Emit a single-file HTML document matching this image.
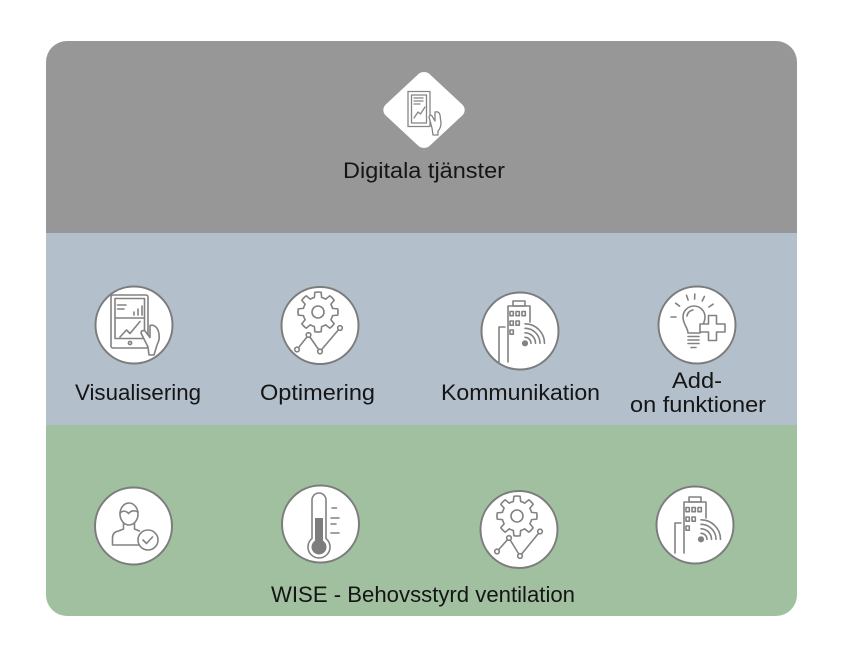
<!DOCTYPE html>
<html><head><meta charset="utf-8"><style>
html,body{margin:0;padding:0;background:#fff;}
svg{display:block;}
text{font-family:"Liberation Sans",sans-serif;fill:#151515;font-size:22px;}
</style></head><body>
<svg width="850" height="654" viewBox="0 0 850 654" xmlns="http://www.w3.org/2000/svg">
<defs>
<clipPath id="card"><rect x="46" y="41" width="751" height="575" rx="21" ry="21"/></clipPath>
</defs>
<g clip-path="url(#card)">
<rect x="46" y="41" width="751" height="192" fill="#979797"/>
<rect x="46" y="233" width="751" height="192" fill="#b3bfca"/>
<rect x="46" y="425" width="751" height="191" fill="#a1c0a0"/>
</g>

<!-- Diamond -->
<g transform="translate(424,110) scale(1.04,0.97) rotate(45)">
<rect x="-30" y="-30" width="60" height="60" rx="8" fill="#fff"/>
</g>
<g fill="none" stroke="#858585" stroke-width="1.3" stroke-linejoin="round" stroke-linecap="round">
<rect x="408" y="91.5" width="22" height="35" fill="#fff"/>
<rect x="411.5" y="95" width="15" height="28"/>
<line x1="414" y1="98" x2="423" y2="98"/>
<line x1="414" y1="101" x2="423" y2="101"/>
<line x1="414" y1="104" x2="420" y2="104"/>
<polyline points="414,118 418,112 420.5,114 425,107"/>
<path d="M429,117 Q430,114 432,116 L435,121 L435,112 Q439,111 440,115 L441,123 Q441,128 438,131 L438,135 L433,135 L432,128 Z" fill="#fff"/>
</g>

<!-- Circles -->
<g fill="#fff" stroke="#7c7c7c" stroke-width="2">
<circle cx="134" cy="325" r="38.5"/>
<circle cx="320" cy="325.5" r="38.5"/>
<circle cx="520" cy="331" r="38.5"/>
<circle cx="697" cy="325" r="38.5"/>
<circle cx="133.5" cy="526" r="38.5"/>
<circle cx="320.5" cy="524" r="38.5"/>
<circle cx="519" cy="529.5" r="38.5"/>
<circle cx="695" cy="525" r="38.5"/>
</g>

<g fill="none" stroke="#828282" stroke-width="1.6" stroke-linejoin="round" stroke-linecap="round">
<!-- Icon 1: Visualisering -->
<rect x="111" y="295" width="37" height="53" rx="2"/>
<rect x="115" y="298.5" width="29.5" height="40"/>
<line x1="115" y1="318" x2="144.5" y2="318"/>
<line x1="117.5" y1="305" x2="126" y2="305"/>
<line x1="117.5" y1="309" x2="124" y2="309"/>
<line x1="134" y1="315" x2="134" y2="312"/>
<line x1="138" y1="315" x2="138" y2="309"/>
<line x1="142" y1="315" x2="142" y2="306"/>
<polyline points="120,337 126.5,330 130,333.5 140,321.5"/>
<circle cx="130" cy="343" r="1.6"/>
<path d="M141,333 Q141.5,329.5 145,331 L150,337.5 L150,325.5 Q155,324 158,330 Q161,338 157,345 L154,355 L149,355 L148,347 Z" fill="#fff"/>

<!-- Icon 2: Optimering -->
<g transform="translate(318,312)">
<path d="M20,0 A20,20 0 0 1 19.75,3.13 L14.55,3.63 A15,15 0 0 1 12.86,7.73 L16.18,11.76 A20,20 0 0 1 14.14,14.14"/>
<path transform="rotate(45)" d="M20,0 A20,20 0 0 1 19.75,3.13 L14.55,3.63 A15,15 0 0 1 12.86,7.73 L16.18,11.76 A20,20 0 0 1 14.14,14.14"/>
<path transform="rotate(90)" d="M20,0 A20,20 0 0 1 19.75,3.13 L14.55,3.63 A15,15 0 0 1 12.86,7.73 L16.18,11.76 A20,20 0 0 1 14.14,14.14"/>
<path transform="rotate(135)" d="M20,0 A20,20 0 0 1 19.75,3.13 L14.55,3.63 A15,15 0 0 1 12.86,7.73 L16.18,11.76 A20,20 0 0 1 14.14,14.14"/>
<path transform="rotate(180)" d="M20,0 A20,20 0 0 1 19.75,3.13 L14.55,3.63 A15,15 0 0 1 12.86,7.73 L16.18,11.76 A20,20 0 0 1 14.14,14.14"/>
<path transform="rotate(225)" d="M20,0 A20,20 0 0 1 19.75,3.13 L14.55,3.63 A15,15 0 0 1 12.86,7.73 L16.18,11.76 A20,20 0 0 1 14.14,14.14"/>
<path transform="rotate(270)" d="M20,0 A20,20 0 0 1 19.75,3.13 L14.55,3.63 A15,15 0 0 1 12.86,7.73 L16.18,11.76 A20,20 0 0 1 14.14,14.14"/>
<path transform="rotate(315)" d="M20,0 A20,20 0 0 1 19.75,3.13 L14.55,3.63 A15,15 0 0 1 12.86,7.73 L16.18,11.76 A20,20 0 0 1 14.14,14.14"/>
<circle cx="0" cy="0" r="6"/>
</g>
<polyline points="297,349.5 308.5,335 320,351.5 340,328"/>
<g fill="#fff"><circle cx="297" cy="349.5" r="2.3"/><circle cx="308.5" cy="335" r="2.3"/><circle cx="320" cy="351.5" r="2.3"/><circle cx="340" cy="328" r="2.3"/></g>

<!-- Icon 3: Kommunikation -->
<g transform="translate(520,331)">
<rect x="-7" y="-30" width="12" height="5"/>
<path d="M-12,31 L-12,-25 L10,-25 L10,-9"/>
<rect x="-10" y="-19.5" width="3.3" height="4.2"/>
<rect x="-4" y="-19.5" width="3.3" height="4.2"/>
<rect x="2" y="-19.5" width="3.3" height="4.2"/>
<rect x="-10" y="-10" width="3.3" height="4.2"/>
<rect x="-4" y="-10" width="3.3" height="4.2"/>
<rect x="-10" y="-1" width="3.3" height="4.2"/>
<path d="M-21,31 L-21,-4 L-15,-4"/>
<path d="M5,6.3 A6,6 0 0 1 11,12.3"/>
<path d="M5,1.8 A10.5,10.5 0 0 1 15.5,12.3"/>
<path d="M5,-2.7 A15,15 0 0 1 20,12.3"/>
<path d="M5,-7.2 A19.5,19.5 0 0 1 24.5,12.3"/>
<circle cx="5" cy="12.3" r="2.3" fill="#828282"/>
</g>

<!-- Icon 4: Add-on -->
<g transform="translate(697,325)">
<path d="M-9,8 C-9,3 -14,-1 -14,-8 A11,11 0 0 1 8,-8 C8,-1 3,3 3,8 Z"/>
<path d="M-10,-9 A7,7 0 0 1 -4,-15"/>
<line x1="-9" y1="11.5" x2="2" y2="11.5"/>
<line x1="-9" y1="15" x2="2" y2="15"/>
<line x1="-9" y1="18.5" x2="2" y2="18.5"/>
<line x1="-6" y1="22.5" x2="-1" y2="22.5"/>
<line x1="-21" y1="-8" x2="-26" y2="-8"/>
<line x1="-17.4" y1="-18.8" x2="-21.4" y2="-21.8"/>
<line x1="-8.9" y1="-25" x2="-10.5" y2="-29.7"/>
<line x1="-2.4" y1="-25.9" x2="-2.2" y2="-30.9"/>
<line x1="5.2" y1="-24" x2="7.4" y2="-28.5"/>
<line x1="11.9" y1="-18" x2="16.1" y2="-20.8"/>
<path d="M11.5,-9.5 L19.5,-9.5 L19.5,-1 L28,-1 L28,7 L19.5,7 L19.5,15.5 L11.5,15.5 L11.5,7 L3,7 L3,-1 L11.5,-1 Z" fill="#fff"/>
</g>

<!-- Icon 5: person check -->
<g transform="translate(133.5,526)">
<ellipse cx="-4.5" cy="-12" rx="9" ry="11"/>
<path d="M-13.5,-13 Q-9,-17 -5,-12.5 Q-1,-17 4.5,-14"/>
<path d="M5,19 L-21,19 L-21,12 Q-21,6 -15,5 L-10,3 L-10,-3"/>
<path d="M1,-3 L1,3 L6,5"/>
<circle cx="14.5" cy="14" r="10" fill="#fff"/>
<polyline points="9.5,14 13,17.5 19,11"/>
</g>

<!-- Icon 6: thermometer -->
<g transform="translate(320.5,524)">
<path d="M-8.5,14.5 L-8.5,-24 A7,7 0 0 1 5.5,-24 L5.5,14.5 A11,11 0 1 1 -8.5,14.5 Z"/>
<rect x="-5.5" y="-6" width="8" height="27" fill="#7d7d7d" stroke="none"/>
<circle cx="-1.5" cy="23" r="7.5" fill="#7d7d7d" stroke="none"/>
<line x1="11.5" y1="-16" x2="16" y2="-16"/>
<line x1="10.5" y1="-6" x2="18.5" y2="-6"/>
<line x1="10.5" y1="0" x2="15.5" y2="0"/>
<line x1="10.5" y1="9" x2="18.5" y2="9"/>
</g>

<!-- Icon 7: gear chart -->
<g transform="translate(517,516)">
<path d="M20,0 A20,20 0 0 1 19.75,3.13 L14.55,3.63 A15,15 0 0 1 12.86,7.73 L16.18,11.76 A20,20 0 0 1 14.14,14.14"/>
<path transform="rotate(45)" d="M20,0 A20,20 0 0 1 19.75,3.13 L14.55,3.63 A15,15 0 0 1 12.86,7.73 L16.18,11.76 A20,20 0 0 1 14.14,14.14"/>
<path transform="rotate(90)" d="M20,0 A20,20 0 0 1 19.75,3.13 L14.55,3.63 A15,15 0 0 1 12.86,7.73 L16.18,11.76 A20,20 0 0 1 14.14,14.14"/>
<path transform="rotate(135)" d="M20,0 A20,20 0 0 1 19.75,3.13 L14.55,3.63 A15,15 0 0 1 12.86,7.73 L16.18,11.76 A20,20 0 0 1 14.14,14.14"/>
<path transform="rotate(180)" d="M20,0 A20,20 0 0 1 19.75,3.13 L14.55,3.63 A15,15 0 0 1 12.86,7.73 L16.18,11.76 A20,20 0 0 1 14.14,14.14"/>
<path transform="rotate(225)" d="M20,0 A20,20 0 0 1 19.75,3.13 L14.55,3.63 A15,15 0 0 1 12.86,7.73 L16.18,11.76 A20,20 0 0 1 14.14,14.14"/>
<path transform="rotate(270)" d="M20,0 A20,20 0 0 1 19.75,3.13 L14.55,3.63 A15,15 0 0 1 12.86,7.73 L16.18,11.76 A20,20 0 0 1 14.14,14.14"/>
<path transform="rotate(315)" d="M20,0 A20,20 0 0 1 19.75,3.13 L14.55,3.63 A15,15 0 0 1 12.86,7.73 L16.18,11.76 A20,20 0 0 1 14.14,14.14"/>
<circle cx="0" cy="0" r="6"/>
</g>
<polyline points="497,551.5 509,538 520,556 540,531.5"/>
<g fill="#fff"><circle cx="497" cy="551.5" r="2.3"/><circle cx="509" cy="538" r="2.3"/><circle cx="520" cy="556" r="2.3"/><circle cx="540" cy="531.5" r="2.3"/></g>

<!-- Icon 8: building -->
<g transform="translate(696,527)">
<rect x="-7" y="-30" width="12" height="5"/>
<path d="M-12,26 L-12,-25 L10,-25 L10,-9"/>
<rect x="-10" y="-19.5" width="3.3" height="4.2"/>
<rect x="-4" y="-19.5" width="3.3" height="4.2"/>
<rect x="2" y="-19.5" width="3.3" height="4.2"/>
<rect x="-10" y="-10" width="3.3" height="4.2"/>
<rect x="-4" y="-10" width="3.3" height="4.2"/>
<rect x="-10" y="-1" width="3.3" height="4.2"/>
<path d="M-21,26 L-21,-4 L-15,-4"/>
<path d="M5,6.3 A6,6 0 0 1 11,12.3"/>
<path d="M5,1.8 A10.5,10.5 0 0 1 15.5,12.3"/>
<path d="M5,-2.7 A15,15 0 0 1 20,12.3"/>
<path d="M5,-7.2 A19.5,19.5 0 0 1 24.5,12.3"/>
<circle cx="5" cy="12.3" r="2.3" fill="#828282"/>
</g>
</g>

<!-- Labels -->
<text x="343" y="178" textLength="162" lengthAdjust="spacingAndGlyphs">Digitala tjänster</text>
<text x="75" y="400" textLength="126" lengthAdjust="spacingAndGlyphs">Visualisering</text>
<text x="260" y="400" textLength="115" lengthAdjust="spacingAndGlyphs">Optimering</text>
<text x="441" y="400" textLength="159" lengthAdjust="spacingAndGlyphs">Kommunikation</text>
<text x="672" y="388" textLength="50" lengthAdjust="spacingAndGlyphs">Add-</text>
<text x="630" y="412" textLength="136" lengthAdjust="spacingAndGlyphs">on funktioner</text>
<text x="271" y="602" textLength="304" lengthAdjust="spacingAndGlyphs">WISE - Behovsstyrd ventilation</text>
</svg>
</body></html>
